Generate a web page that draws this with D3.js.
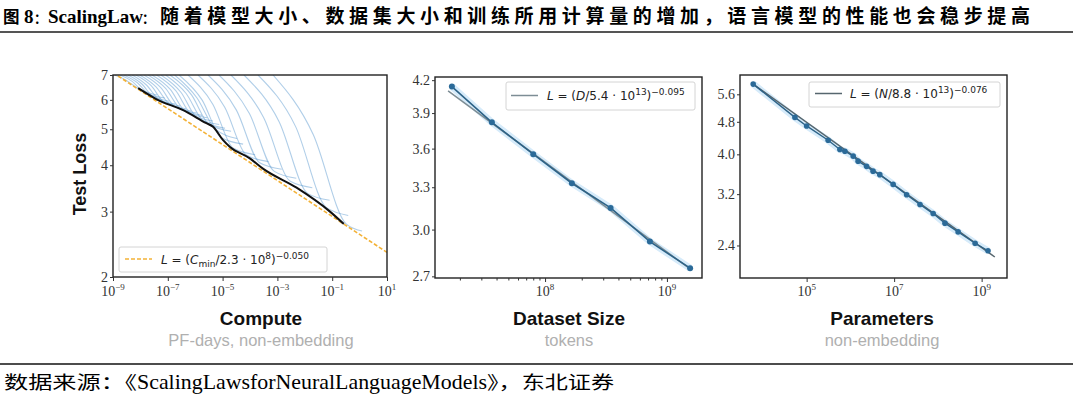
<!DOCTYPE html>
<html>
<head>
<meta charset="utf-8">
<script src="https://cdn.jsdelivr.net/npm/d3@7"></script>
<style>
  body { margin: 0; background: #fff; }
  svg { display: block; }
</style>
</head>
<body>
<div id="chart"></div>
<script>
// ---- Data ----

// Compute panel: learning curves (log10 of PF-days, test loss)
const runLogCompute = [
  [-8.95, -8.55, -8.10, -7.40],
  [-8.745, -8.288, -7.916, -7.113],
  [-8.60, -8.10, -7.72, -6.95],
  [-8.453, -7.945, -7.529, -6.726],
  [-8.30, -7.78, -7.33, -6.55],
  [-8.161, -7.599, -7.139, -6.336],
  [-8.02, -7.43, -6.95, -6.15],
  [-7.869, -7.255, -6.752, -5.949],
  [-7.72, -7.08, -6.56, -5.75],
  [-7.577, -6.909, -6.365, -5.562],
  [-7.41, -6.71, -6.15, -5.35],
  [-7.248, -6.522, -5.927, -5.124],
  [-7.08, -6.33, -5.71, -4.91],
  [-6.920, -6.135, -5.493, -4.690],
  [-6.75, -5.94, -5.27, -4.47],
  [-6.591, -5.745, -5.055, -4.252],
  [-6.263, -5.358, -4.617, -3.814],
  [-5.898, -4.927, -4.131, -3.328],
  [-5.533, -4.496, -3.646, -2.843],
  [-5.131, -4.022, -3.113, -2.310],
  [-4.693, -3.504, -2.529, -1.726],
  [-4.219, -2.942, -1.898, -1.095],
  [-3.708, -2.339, -1.219, -0.416],
  [-3.161, -1.693, -0.493, 0.088]
];
const runLoss = [
  [7.0, 6.80, 6.45, 6.18],
  [7.0, 6.72, 6.33, 6.07],
  [7.0, 6.66, 6.24, 5.95],
  [7.0, 6.62, 6.10, 5.85],
  [7.0, 6.58, 6.02, 5.77],
  [7.0, 6.54, 5.91, 5.68],
  [7.0, 6.50, 5.86, 5.60],
  [7.0, 6.47, 5.76, 5.53],
  [7.0, 6.44, 5.70, 5.45],
  [7.0, 6.40, 5.59, 5.37],
  [7.0, 6.35, 5.50, 5.26],
  [7.0, 6.29, 5.36, 5.15],
  [7.0, 6.24, 5.27, 5.03],
  [7.0, 6.19, 5.15, 4.94],
  [7.0, 6.08, 5.01, 4.72],
  [7.0, 5.99, 4.75, 4.56],
  [7.0, 5.84, 4.45, 4.27],
  [7.0, 5.74, 4.26, 4.09],
  [7.0, 5.63, 4.06, 3.90],
  [7.0, 5.51, 3.85, 3.69],
  [7.0, 5.38, 3.62, 3.48],
  [7.0, 5.25, 3.36, 3.22],
  [7.0, 5.09, 3.08, 2.93],
  [7.0, 4.84, 2.78, 2.66]
];
// compute-efficient frontier (black)
const frontierLogCompute = [-8.08, -7.41, -6.44, -5.59, -5.35, -4.99, -4.73, -4.02, -3.515, -2.30, -1.08, -0.58];
const frontierLoss = [6.45, 6.02, 5.63, 5.19, 5.08, 4.68, 4.48, 4.18, 3.91, 3.48, 3.00, 2.78];
// power-law fit (orange dashed), end points
const computeFitX = [1e-9, 10];
const computeFitLoss = [7.1, 2.33];

// Dataset size panel
const datasetTokens = [1.72e7, 3.66e7, 8.0e7, 1.66e8, 3.45e8, 7.25e8, 1.55e9];
const datasetLoss = [4.14, 3.82, 3.555, 3.33, 3.15, 2.92, 2.75];
const datasetFitX = [1.6e7, 1.55e9];
const datasetFitLoss = [4.10, 2.745];

// Parameters panel
const paramCount = [6.0e3, 5.4e4, 1.0e5, 3.1e5, 5.75e5, 7.5e5, 1.16e6, 1.5e6, 2.34e6, 3.3e6,
  4.7e6, 9.5e6, 1.93e7, 3.9e7, 7.8e7, 1.45e8, 2.9e8, 7.1e8, 1.4e9];
const paramLoss = [5.93, 4.92, 4.69, 4.33, 4.11, 4.07, 3.96, 3.85, 3.74, 3.64,
  3.57, 3.38, 3.19, 3.02, 2.87, 2.72, 2.59, 2.43, 2.33];
const paramFitX = [6.0e3, 2.0e9];
const paramFitLoss = [5.93, 2.25];

// Tick values
const computeTicks = [1e-9, 1e-7, 1e-5, 1e-3, 1e-1, 10];
const computeLossTicks = [2, 3, 4, 5, 6, 7];
const datasetTicks = [1e8, 1e9];
const datasetMinorTicks = [2e7, 3e7, 4e7, 5e7, 6e7, 7e7, 8e7, 9e7, 2e8, 3e8, 4e8, 5e8, 6e8, 7e8, 8e8, 9e8];
const datasetLossTicks = [2.7, 3.0, 3.3, 3.6, 3.9, 4.2];
const paramTicks = [1e5, 1e7, 1e9];
const paramLossTicks = [2.4, 3.2, 4.0, 4.8, 5.6];

// ---- Drawing ----
const W = 1073, H = 394;
const serif = "'Liberation Serif', 'DejaVu Serif', serif";
const sans = "'Liberation Sans', Arial, sans-serif";
const mathFont = "'DejaVu Sans', sans-serif";
const cjk = "'Noto Sans CJK SC', sans-serif";

const svg = d3.select("#chart").append("svg")
  .attr("width", W)
  .attr("height", H)
  .attr("viewBox", [0, 0, W, H]);

// superscript exponent label like 10^-7
function expText(v) {
  const e = Math.round(Math.log10(v));
  return (e < 0 ? "\u2212" : "") + Math.abs(e);
}

function addPowLabels(scale, values, y) {
  values.forEach(v => {
    const t = svg.append("text")
      .attr("x", scale(v))
      .attr("y", y)
      .attr("text-anchor", "middle")
      .attr("font-family", serif)
      .attr("font-size", 14)
      .attr("fill", "#333");
    t.append("tspan").text("10");
    t.append("tspan").attr("font-size", 9).attr("dy", -6).text(expText(v));
  });
}

function bottomAxis(scale, y, ticks, minor) {
  svg.append("g")
    .attr("transform", `translate(0,${y})`)
    .call(d3.axisBottom(scale).tickValues(ticks).tickSize(4).tickFormat(""))
    .call(g => g.select(".domain").remove())
    .call(g => g.selectAll("line").attr("stroke", "#333"));
  if (minor) {
    svg.append("g")
      .attr("transform", `translate(0,${y})`)
      .call(d3.axisBottom(scale).tickValues(minor).tickSize(2.5).tickFormat(""))
      .call(g => g.select(".domain").remove())
      .call(g => g.selectAll("line").attr("stroke", "#333"));
  }
}

function leftAxis(scale, x, ticks, fmt) {
  svg.append("g")
    .attr("transform", `translate(${x},0)`)
    .call(d3.axisLeft(scale).tickValues(ticks).tickSize(3).tickPadding(2).tickFormat(fmt))
    .call(g => g.select(".domain").remove())
    .call(g => g.selectAll("line").attr("stroke", "#333"))
    .call(g => g.selectAll("text")
      .attr("font-family", serif)
      .attr("font-size", 14)
      .attr("fill", "#333"));
}

function frame(x0, y0, x1, y1) {
  svg.append("rect")
    .attr("x", x0).attr("y", y0)
    .attr("width", x1 - x0).attr("height", y1 - y0)
    .attr("fill", "none")
    .attr("stroke", "#222")
    .attr("stroke-width", 1.4);
}

function clip(id, x0, y0, x1, y1) {
  svg.append("clipPath").attr("id", id)
    .append("rect").attr("x", x0).attr("y", y0)
    .attr("width", x1 - x0).attr("height", y1 - y0);
  return svg.append("g").attr("clip-path", `url(#${id})`);
}

// legend with a math label built from tspans
function legend(box, sample, textX, textY, parts) {
  svg.append("rect")
    .attr("x", box[0]).attr("y", box[1])
    .attr("width", box[2]).attr("height", box[3])
    .attr("rx", 2)
    .attr("fill", "#fff")
    .attr("stroke", "#d4d4d4");
  svg.append("line")
    .attr("x1", sample.x1).attr("x2", sample.x2)
    .attr("y1", sample.y).attr("y2", sample.y)
    .attr("stroke", sample.color)
    .attr("stroke-width", 1.5)
    .attr("stroke-dasharray", sample.dash || null);
  const t = svg.append("text")
    .attr("x", textX).attr("y", textY)
    .attr("font-family", mathFont)
    .attr("font-size", 12)
    .attr("fill", "#222");
  let shift = 0;
  parts.forEach(p => {
    const target = p.pos === "sup" ? -5 : p.pos === "sub" ? 3 : 0;
    const ts = t.append("tspan").text(p.t).attr("dy", target - shift);
    shift = target;
    if (p.pos) ts.attr("font-size", 9);
    if (p.italic) ts.attr("font-style", "italic");
  });
}

// ===== Panel 1: Compute =====
const computeX = d3.scaleLog().domain([1e-9, 10]).range([113, 387]);
const computeY = d3.scaleLog().domain([2, 7]).range([277, 75]);
const p1 = clip("clip1", 113, 75, 387, 277);

const runLine = d3.line()
  .x(d => computeX(10 ** d[0]))
  .y(d => computeY(d[1]))
  .curve(d3.curveMonotoneX);

runLogCompute.forEach((cs, i) => {
  p1.append("path")
    .attr("d", runLine(cs.map((c, k) => [c, runLoss[i][k]])))
    .attr("fill", "none")
    .attr("stroke", "#4f93cc")
    .attr("stroke-opacity", 0.45)
    .attr("stroke-width", 1.1);
});

p1.append("path")
  .attr("d", d3.line()
    .x(d => computeX(d[0]))
    .y(d => computeY(d[1]))(computeFitX.map((c, k) => [c, computeFitLoss[k]])))
  .attr("fill", "none")
  .attr("stroke", "#f3b237")
  .attr("stroke-width", 1.6)
  .attr("stroke-dasharray", "4,2");

p1.append("path")
  .attr("d", runLine(frontierLogCompute.map((c, k) => [c, frontierLoss[k]])))
  .attr("fill", "none")
  .attr("stroke", "#111")
  .attr("stroke-width", 2);

frame(113, 75, 387, 277);
bottomAxis(computeX, 277, computeTicks);
addPowLabels(computeX, computeTicks, 296);
leftAxis(computeY, 113, computeLossTicks, d3.format("d"));

legend([119, 247, 208, 25], { x1: 125, x2: 152, y: 259, color: "#f3b237", dash: "4,2" }, 161, 264, [
  { t: "L", italic: true }, { t: " = (" }, { t: "C", italic: true }, { t: "min", pos: "sub" },
  { t: "/2.3 \u00b7 10" }, { t: "8", pos: "sup" }, { t: ")" }, { t: "\u22120.050", pos: "sup" }
]);

// ===== Panel 2: Dataset Size =====
const dataX = d3.scaleLog().domain([1.25e7, 1.94e9]).range([435, 702]);
const dataY = d3.scaleLog().domain([2.69, 4.23]).range([278, 77]);
const p2 = clip("clip2", 435, 77, 702, 278);
const dataPts = datasetTokens.map((d, i) => [d, datasetLoss[i]]);
const line2 = d3.line().x(d => dataX(d[0])).y(d => dataY(d[1]));

p2.append("path").attr("d", line2(dataPts))
  .attr("fill", "none").attr("stroke", "#d6ebfa").attr("stroke-width", 7);
p2.append("path").attr("d", line2(datasetFitX.map((d, i) => [d, datasetFitLoss[i]])))
  .attr("fill", "none").attr("stroke", "#7d8d95").attr("stroke-width", 1.5);
p2.append("path").attr("d", line2(dataPts))
  .attr("fill", "none").attr("stroke", "#2d6286").attr("stroke-width", 1.6);
p2.selectAll("circle").data(dataPts).join("circle")
  .attr("cx", d => dataX(d[0])).attr("cy", d => dataY(d[1]))
  .attr("r", 3).attr("fill", "#2b6a98");

frame(435, 77, 702, 278);
bottomAxis(dataX, 278, datasetTicks, datasetMinorTicks);
addPowLabels(dataX, datasetTicks, 296);
leftAxis(dataY, 435, datasetLossTicks, d3.format(".1f"));

legend([506, 82, 189, 28], { x1: 511, x2: 538, y: 95.5, color: "#7d8d95" }, 547, 100, [
  { t: "L", italic: true }, { t: " = (" }, { t: "D", italic: true },
  { t: "/5.4 \u00b7 10" }, { t: "13", pos: "sup" }, { t: ")" }, { t: "\u22120.095", pos: "sup" }
]);

// ===== Panel 3: Parameters =====
const paramX = d3.scaleLog().domain([3.0e3, 3.8e9]).range([740, 1007]);
const paramY = d3.scaleLog().domain([2.0, 6.24]).range([278, 75]);
const p3 = clip("clip3", 740, 75, 1007, 278);
const paramPts = paramCount.map((d, i) => [d, paramLoss[i]]);
const line3 = d3.line().x(d => paramX(d[0])).y(d => paramY(d[1]));

p3.append("path").attr("d", line3(paramPts))
  .attr("fill", "none").attr("stroke", "#d6ebfa").attr("stroke-width", 7);
p3.append("path").attr("d", line3(paramFitX.map((d, i) => [d, paramFitLoss[i]])))
  .attr("fill", "none").attr("stroke", "#56666e").attr("stroke-width", 1.5);
p3.append("path").attr("d", line3(paramPts))
  .attr("fill", "none").attr("stroke", "#2d6286").attr("stroke-width", 1.4);
p3.selectAll("circle").data(paramPts).join("circle")
  .attr("cx", d => paramX(d[0])).attr("cy", d => paramY(d[1]))
  .attr("r", 2.8).attr("fill", "#2b6a98");

frame(740, 75, 1007, 278);
bottomAxis(paramX, 278, paramTicks);
addPowLabels(paramX, paramTicks, 296);
leftAxis(paramY, 740, paramLossTicks, d3.format(".1f"));

legend([809, 82, 191, 25], { x1: 815, x2: 842, y: 93.5, color: "#56666e" }, 850, 98, [
  { t: "L", italic: true }, { t: " = (" }, { t: "N", italic: true },
  { t: "/8.8 \u00b7 10" }, { t: "13", pos: "sup" }, { t: ")" }, { t: "\u22120.076", pos: "sup" }
]);

// ===== Axis titles =====
svg.append("text")
  .attr("transform", "translate(86,174) rotate(-90)")
  .attr("text-anchor", "middle")
  .attr("font-family", sans)
  .attr("font-weight", "bold")
  .attr("font-size", 18)
  .attr("fill", "#111")
  .text("Test Loss");

const titles = [
  { x: 261, title: "Compute", sub: "PF-days, non-embedding" },
  { x: 569, title: "Dataset Size", sub: "tokens" },
  { x: 882, title: "Parameters", sub: "non-embedding" }
];
titles.forEach(t => {
  svg.append("text")
    .attr("x", t.x).attr("y", 325)
    .attr("text-anchor", "middle")
    .attr("font-family", sans)
    .attr("font-weight", "bold")
    .attr("font-size", 19)
    .attr("fill", "#111")
    .text(t.title);
  svg.append("text")
    .attr("x", t.x).attr("y", 346)
    .attr("text-anchor", "middle")
    .attr("font-family", sans)
    .attr("font-size", 16.5)
    .attr("fill", "#b0b0b0")
    .text(t.sub);
});

// ===== Report header / footer =====
function plainText(x, y, str, font, size, weight, len, adjust) {
  const t = svg.append("text")
    .attr("x", x).attr("y", y)
    .attr("font-family", font)
    .attr("font-weight", weight)
    .attr("font-size", size)
    .attr("fill", "#000")
    .text(str);
  if (len) t.attr("textLength", len).attr("lengthAdjust", adjust || "spacingAndGlyphs");
}
plainText(3, 23, "图", cjk, 16.5, "bold");
plainText(24, 23, "8", serif, 19, "bold");
plainText(34, 23, "：", cjk, 13, "bold");
plainText(48, 23, "ScalingLaw", serif, 19, "bold");
plainText(142, 23, "：", cjk, 13, "bold");
plainText(160, 23, "随着模型大小、数据集大小和训练所用计算量的增加，语言模型的性能也会稳步提高",
  cjk, 19, "bold", 870, "spacing");

svg.append("line")
  .attr("x1", 0).attr("x2", W)
  .attr("y1", 32).attr("y2", 32)
  .attr("stroke", "#555").attr("stroke-width", 2);

svg.append("line")
  .attr("x1", 0).attr("x2", W)
  .attr("y1", 364).attr("y2", 364)
  .attr("stroke", "#111").attr("stroke-width", 1.5);

plainText(4, 389, "数据来源：《", cjk, 18, "normal", 133);
plainText(137, 389, "ScalingLawsforNeuralLanguageModels", serif, 22, "normal", 350);
plainText(487, 389, "》，东北证券", cjk, 18, "normal", 127);
</script>
</body>
</html>
